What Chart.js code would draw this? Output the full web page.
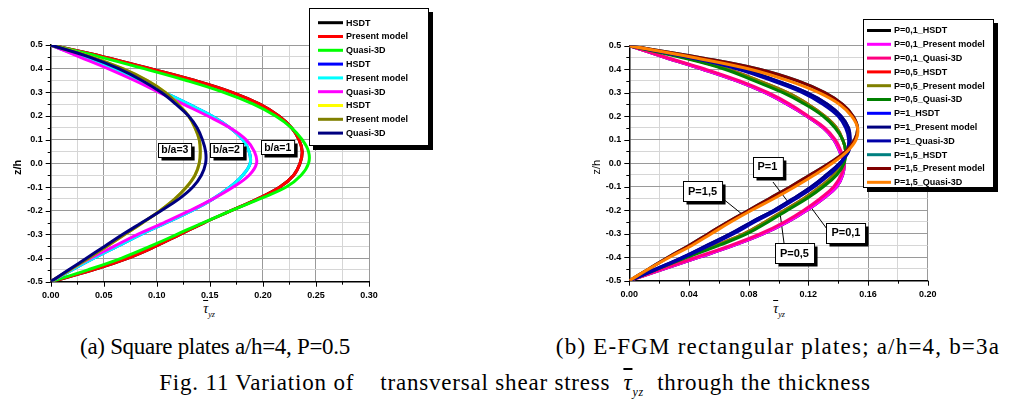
<!DOCTYPE html>
<html>
<head>
<meta charset="utf-8">
<script src="https://cdn.jsdelivr.net/npm/chart.js@4.4.1/dist/chart.umd.min.js"></script>
<style>
body{margin:0;background:#fff;width:1013px;height:409px;position:relative;overflow:hidden;font-family:"Liberation Serif",serif;}
canvas{position:absolute;top:0;}
#left{left:0;}
#right{left:560px;}
.cap{position:absolute;font-size:23px;line-height:23px;white-space:pre;color:#000;transform:translateX(-50%);}
.tau{position:absolute;font-size:14px;line-height:14px;font-style:italic;white-space:nowrap;transform:translateX(-50%);}
.tau sub{font-size:8px;font-style:italic;}
.bar{text-decoration:overline;font-style:italic;}
</style>
</head>
<body>
<canvas id="left" width="480" height="300"></canvas>
<canvas id="right" width="453" height="300"></canvas>
<div class="tau" style="left:209px;top:302px;"><span class="bar">τ</span><sub>yz</sub></div>
<div class="tau" style="left:779px;top:302px;"><span class="bar">τ</span><sub>yz</sub></div>
<div class="cap" style="left:215px;top:335px;letter-spacing:-0.3px;">(a) Square plates a/h=4, P=0.5</div>
<div class="cap" style="left:778px;top:335px;letter-spacing:1.2px;">(b) E-FGM rectangular plates; a/h=4, b=3a</div>
<div class="cap" style="left:515px;top:371px;letter-spacing:0.8px;">Fig. 11 Variation of    transversal shear stress  <span class="bar">τ</span><sub style="font-size:12px;font-style:italic">yz</sub>  through the thickness</div>
<script>

// thickness coordinate z/h, shared by every curve
const zh = [0.5, 0.45, 0.4, 0.35, 0.3, 0.25, 0.2, 0.15, 0.1, 0.05, 0, -0.05, -0.1, -0.15, -0.2, -0.25, -0.3, -0.35, -0.4, -0.45, -0.5];

// (a) square plates, b/a = 1, 2, 3
const present1 = [0, 0.05, 0.094, 0.136, 0.171, 0.197, 0.215, 0.227, 0.234, 0.237, 0.235, 0.229, 0.216, 0.195, 0.17, 0.145, 0.122, 0.099, 0.073, 0.04, 0];
const quasi1 = [0, 0.046, 0.088, 0.128, 0.163, 0.191, 0.212, 0.227, 0.237, 0.243, 0.243, 0.236, 0.222, 0.197, 0.17, 0.144, 0.119, 0.094, 0.067, 0.035, 0];
const hsdt1 = present1;
const present2 = [0, 0.029, 0.058, 0.084, 0.107, 0.13, 0.152, 0.169, 0.181, 0.187, 0.188, 0.181, 0.169, 0.153, 0.133, 0.109, 0.085, 0.063, 0.041, 0.02, 0];
const quasi2 = [0, 0.027, 0.054, 0.079, 0.102, 0.125, 0.148, 0.169, 0.184, 0.192, 0.194, 0.187, 0.172, 0.153, 0.131, 0.107, 0.082, 0.06, 0.038, 0.018, 0];
const hsdt2 = present2;
const present3 = [0, 0.038, 0.068, 0.091, 0.108, 0.12, 0.13, 0.136, 0.14, 0.141, 0.14, 0.136, 0.128, 0.117, 0.103, 0.087, 0.07, 0.053, 0.036, 0.018, 0];
const quasi3 = [0, 0.036, 0.064, 0.086, 0.104, 0.118, 0.13, 0.138, 0.143, 0.146, 0.146, 0.142, 0.134, 0.121, 0.104, 0.086, 0.068, 0.051, 0.034, 0.017, 0];
const hsdt3 = present3;

// (b) E-FGM rectangular plates, P = 0.1, 0.5, 1, 1.5
const p01Present = [0, 0.024, 0.049, 0.072, 0.091, 0.106, 0.119, 0.13, 0.137, 0.141, 0.144, 0.143, 0.139, 0.13, 0.119, 0.106, 0.09, 0.07, 0.047, 0.023, 0];
const p01Quasi = [0, 0.025, 0.051, 0.074, 0.093, 0.108, 0.12, 0.131, 0.138, 0.142, 0.144, 0.142, 0.137, 0.128, 0.117, 0.104, 0.088, 0.068, 0.045, 0.022, 0];
const p01Hsdt = p01Present;
const p05Present = [0, 0.037, 0.066, 0.087, 0.106, 0.12, 0.131, 0.139, 0.143, 0.145, 0.143, 0.137, 0.128, 0.117, 0.104, 0.091, 0.077, 0.058, 0.038, 0.019, 0];
const p05Quasi = [0, 0.035, 0.064, 0.084, 0.103, 0.118, 0.13, 0.138, 0.143, 0.145, 0.144, 0.139, 0.13, 0.119, 0.106, 0.093, 0.079, 0.06, 0.039, 0.019, 0];
const p05Hsdt = p05Present;
const p1Present = [0, 0.042, 0.076, 0.099, 0.119, 0.133, 0.142, 0.147, 0.148, 0.147, 0.141, 0.132, 0.122, 0.11, 0.097, 0.082, 0.068, 0.052, 0.036, 0.018, 0];
const p1Quasi = [0, 0.04, 0.073, 0.096, 0.116, 0.13, 0.14, 0.145, 0.147, 0.146, 0.142, 0.134, 0.124, 0.112, 0.099, 0.084, 0.07, 0.054, 0.037, 0.019, 0];
const p1Hsdt = p1Present;
const p15Present = [0, 0.047, 0.087, 0.113, 0.131, 0.143, 0.15, 0.153, 0.151, 0.145, 0.134, 0.121, 0.108, 0.094, 0.08, 0.066, 0.053, 0.04, 0.026, 0.013, 0];
const p15Quasi = [0, 0.043, 0.081, 0.107, 0.127, 0.141, 0.149, 0.153, 0.152, 0.146, 0.136, 0.124, 0.111, 0.097, 0.082, 0.068, 0.055, 0.042, 0.027, 0.013, 0];
const p15Hsdt = p15Present;

const leftLabels = ["HSDT", "Present model", "Quasi-3D", "HSDT", "Present model", "Quasi-3D", "HSDT", "Present model", "Quasi-3D"];
const leftColors = ["#000000", "#ff0000", "#00ff00", "#0000ff", "#00ffff", "#ff00ff", "#ffff00", "#808000", "#000080"];
const leftSeries = [hsdt1, present1, quasi1, hsdt2, present2, quasi2, hsdt3, present3, quasi3];

const rightLabels = ["P=0,1_HSDT", "P=0,1_Present model", "P=0,1_Quasi-3D", "P=0,5_HSDT", "P=0,5_Present model", "P=0,5_Quasi-3D",
    "P=1_HSDT", "P=1_Present model", "P=1_Quasi-3D", "P=1,5_HSDT", "P=1,5_Present model", "P=1,5_Quasi-3D"];
const rightColors = ["#000000", "#ff00ff", "#ff0080", "#ff0000", "#808000", "#008000", "#0000ff", "#000080", "#0000a8", "#008080", "#800000", "#ff8000"];
const rightSeries = [p01Hsdt, p01Present, p01Quasi, p05Hsdt, p05Present, p05Quasi, p1Hsdt, p1Present, p1Quasi, p15Hsdt, p15Present, p15Quasi];

// text boxes on the plots, in data coordinates
const leftNotes = [
    { text: "b/a=3", x: 0.117, y: 0.056 },
    { text: "b/a=2", x: 0.1655, y: 0.056 },
    { text: "b/a=1", x: 0.214, y: 0.067 }
];
const rightNotes = [
    { text: "P=1", x: 0.0926, y: -0.016, line: [0.0963, -0.08, 0.1064, -0.165] },
    { text: "P=1,5", x: 0.0491, y: -0.12, line: [0.0621, -0.148, 0.0762, -0.22] },
    { text: "P=0,1", x: 0.1452, y: -0.295, line: [0.1325, -0.28, 0.1211, -0.182] },
    { text: "P=0,5", x: 0.1107, y: -0.382, line: [0.1037, -0.34, 0.101, -0.21] }
];

const SANS = '"Liberation Sans", Arial, sans-serif';

function near(v, step) {
    return Math.abs(v / step - Math.round(v / step)) < 1e-6;
}

const extras = {
    id: "extras",
    beforeDatasetsDraw(chart, args, o) {
        // leader lines sit under the curves
        const ctx = chart.ctx, xs = chart.scales.x, ys = chart.scales.y;
        ctx.save();
        ctx.strokeStyle = "#000";
        ctx.lineWidth = 1;
        o.notes.forEach(n => {
            if (!n.line) return;
            ctx.beginPath();
            ctx.moveTo(xs.getPixelForValue(n.line[0]), ys.getPixelForValue(n.line[1]));
            ctx.lineTo(xs.getPixelForValue(n.line[2]), ys.getPixelForValue(n.line[3]));
            ctx.stroke();
        });
        ctx.restore();
    },
    afterDraw(chart, args, o) {
        const ctx = chart.ctx, xs = chart.scales.x, ys = chart.scales.y;
        ctx.save();

        // tick marks, long on labelled ticks
        ctx.strokeStyle = "#000";
        ctx.lineWidth = 1;
        xs.ticks.forEach(t => {
            const px = Math.round(xs.getPixelForValue(t.value)) + 0.5;
            ctx.beginPath();
            ctx.moveTo(px, ys.bottom);
            ctx.lineTo(px, ys.bottom + (t.label ? 5 : 3));
            ctx.stroke();
        });
        ys.ticks.forEach(t => {
            const py = Math.round(ys.getPixelForValue(t.value)) + 0.5;
            ctx.beginPath();
            ctx.moveTo(xs.left, py);
            ctx.lineTo(xs.left - (t.label ? 5 : 3), py);
            ctx.stroke();
        });

        // y title
        ctx.fillStyle = "#000";
        ctx.font = o.titleFont;
        ctx.textAlign = "center";
        ctx.textBaseline = "middle";
        ctx.translate(o.titleX, (ys.top + ys.bottom) / 2 + 4);
        ctx.rotate(-Math.PI / 2);
        ctx.fillText("z/h", 0, 0);
        ctx.setTransform(1, 0, 0, 1, 0, 0);

        // note boxes
        ctx.font = o.noteFont;
        o.notes.forEach(n => {
            const w = ctx.measureText(n.text).width + o.notePad * 2;
            const h = o.noteH;
            const cx = xs.getPixelForValue(n.x), cy = ys.getPixelForValue(n.y);
            const x0 = Math.round(cx - w / 2) + 0.5, y0 = Math.round(cy - h / 2) + 0.5;
            ctx.fillStyle = "#000";
            ctx.fillRect(x0 + 3, y0 + 3, w, h);
            ctx.fillStyle = "#fff";
            ctx.fillRect(x0, y0, w, h);
            ctx.strokeStyle = "#000";
            ctx.strokeRect(x0, y0, w, h);
            ctx.fillStyle = "#000";
            ctx.fillText(n.text, cx, cy + 0.5);
        });

        // legend box
        const L = o.legend;
        ctx.fillStyle = "#000";
        ctx.fillRect(L.x + 4, L.y + 4, L.w, L.h);
        ctx.fillStyle = "#fff";
        ctx.fillRect(L.x, L.y, L.w, L.h);
        ctx.strokeStyle = "#000";
        ctx.lineWidth = 1;
        ctx.strokeRect(L.x + 0.5, L.y + 0.5, L.w - 1, L.h - 1);
        ctx.font = "bold 9px " + SANS;
        ctx.textAlign = "left";
        chart.data.datasets.forEach((ds, i) => {
            const y = L.first + i * L.row;
            ctx.strokeStyle = ds.borderColor;
            ctx.lineWidth = 3;
            ctx.beginPath();
            ctx.moveTo(L.x1, y);
            ctx.lineTo(L.x2, y);
            ctx.stroke();
            ctx.fillStyle = "#000";
            ctx.fillText(ds.label, L.x2 + 3, y + 0.5);
        });
        ctx.restore();
    }
};

function makeChart(id, labels, colors, series, xMax, xStep, geom, plug) {
    const n = series.length;
    const datasets = series.map((vals, i) => ({
        label: labels[i],
        data: zh.map((z, k) => ({ x: vals[k], y: z })),
        borderColor: colors[i],
        backgroundColor: colors[i],
        borderWidth: 3,
        pointRadius: 0,
        showLine: true,
        tension: 0.4,
        order: n - i
    }));
    return new Chart(document.getElementById(id), {
        type: "scatter",
        data: { datasets },
        plugins: [extras],
        options: {
            responsive: false,
            animation: false,
            layout: { padding: { left: 0, top: geom.top, right: geom.right, bottom: 0 } },
            plugins: {
                legend: { display: false },
                tooltip: { enabled: false },
                extras: plug
            },
            scales: {
                x: {
                    type: "linear",
                    min: 0,
                    max: xMax,
                    afterFit: s => { s.height = geom.xh; },
                    ticks: {
                        stepSize: xStep / 2,
                        autoSkip: false,
                        maxRotation: 0,
                        padding: 8,
                        color: "#000",
                        font: { family: SANS, size: 9, weight: "bold" },
                        callback: v => near(v, xStep) ? v.toFixed(2) : ""
                    },
                    grid: {
                        drawTicks: false,
                        lineWidth: 1,
                        color: c => near(c.tick.value, xStep) ? "#9a9a9a" : "#d6d6d6"
                    },
                    border: { color: "#000", width: 1.5 }
                },
                y: {
                    type: "linear",
                    min: -0.5,
                    max: 0.5,
                    afterFit: s => { s.width = geom.yw; },
                    ticks: {
                        stepSize: 0.05,
                        autoSkip: false,
                        padding: 8,
                        color: "#000",
                        font: { family: SANS, size: 9, weight: "bold" },
                        callback: v => near(v, 0.1) ? v.toFixed(1) : ""
                    },
                    grid: {
                        drawTicks: false,
                        lineWidth: 1,
                        color: c => near(c.tick.value, 0.1) ? "#9a9a9a" : "#d6d6d6"
                    },
                    border: { color: "#000", width: 1.5 }
                }
            }
        }
    });
}

makeChart("left", leftLabels, leftColors, leftSeries, 0.3, 0.05,
    { top: 45, right: 111, xh: 18.3, yw: 50.7 },
    {
        notes: leftNotes, noteFont: "bold 10.5px " + SANS, notePad: 3, noteH: 14,
        titleFont: "bold 11px " + SANS, titleX: 18,
        legend: { x: 309, y: 8, w: 120, h: 138, first: 22.7, row: 13.8, x1: 318, x2: 343 }
    });

makeChart("right", rightLabels, rightColors, rightSeries, 0.2, 0.04,
    { top: 45.7, right: 85.3, xh: 19.3, yw: 69.3 },
    {
        notes: rightNotes, noteFont: "bold 11px " + SANS, notePad: 5, noteH: 20,
        titleFont: "11px " + SANS, titleX: 37,
        legend: { x: 303, y: 19, w: 131, h: 169, first: 30.5, row: 13.8, x1: 307, x2: 331 }
    });
</script>
</body>
</html>
